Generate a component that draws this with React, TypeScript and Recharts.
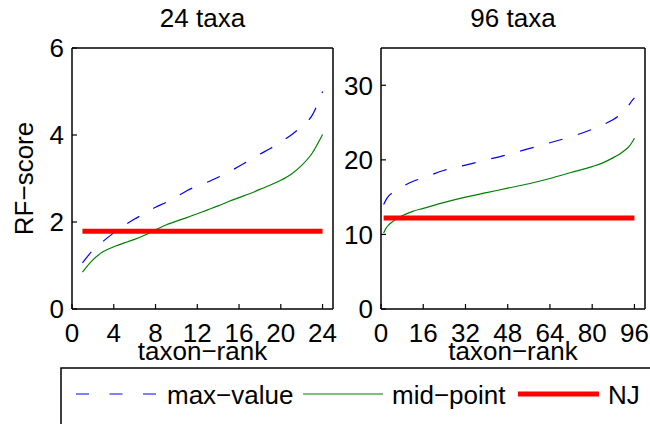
import { Line, LineChart, XAxis, YAxis } from 'recharts';

// 24 taxa panel
const ranks24 = [1, 2, 3, 4, 5, 6, 7, 8, 9, 10, 11, 12, 13, 14, 15, 16, 17, 18, 19, 20, 21, 22, 23, 24];
const max24 = [1.06, 1.35, 1.56, 1.75, 1.92, 2.07, 2.2, 2.34, 2.45, 2.58, 2.72, 2.83, 2.92, 3.03, 3.15, 3.28, 3.42, 3.56, 3.69, 3.84, 4.0, 4.2, 4.45, 5.0];
const mid24 = [0.85, 1.13, 1.32, 1.43, 1.52, 1.6, 1.7, 1.82, 1.93, 2.02, 2.1, 2.19, 2.28, 2.37, 2.47, 2.56, 2.65, 2.75, 2.85, 2.96, 3.1, 3.3, 3.58, 4.01];
const nj24 = 1.79;

// 96 taxa panel (read at selected ranks)
const ranks96 = [1, 2, 3, 4, 6, 8, 12, 16, 24, 32, 40, 48, 56, 64, 72, 80, 84, 88, 90, 92, 94, 95, 96];
const max96 = [14.0, 14.7, 15.2, 15.5, 16.0, 16.4, 17.1, 17.6, 18.6, 19.3, 20.0, 20.7, 21.5, 22.3, 23.1, 24.1, 24.7, 25.4, 25.9, 26.5, 27.4, 27.9, 28.3];
const mid96 = [10.2, 10.9, 11.3, 11.6, 12.1, 12.5, 13.1, 13.5, 14.3, 15.0, 15.6, 16.2, 16.8, 17.5, 18.3, 19.1, 19.6, 20.3, 20.7, 21.2, 21.8, 22.3, 22.9];
const nj96 = 12.2;

const xTicks24 = [0, 4, 8, 12, 16, 20, 24];
const yTicks24 = [0, 2, 4, 6];
const xTicks96 = [0, 16, 32, 48, 64, 80, 96];
const yTicks96 = [0, 10, 20, 30];

const rows24 = ranks24.map((rank, i) => ({ rank, max: max24[i], mid: mid24[i] }));
const rows96 = ranks96.map((rank, i) => ({ rank, max: max96[i], mid: mid96[i] }));
const njRows24 = [{ rank: ranks24[0], nj: nj24 }, { rank: ranks24[ranks24.length - 1], nj: nj24 }];
const njRows96 = [{ rank: ranks96[0], nj: nj96 }, { rank: ranks96[ranks96.length - 1], nj: nj96 }];

const FONT = '"Liberation Sans", Arial, Helvetica, sans-serif';
const tickStyle = { fill: '#000', fontSize: 26 };
const axisLine = { stroke: '#000', strokeWidth: 1.5 };
const tickLine = { stroke: '#000', strokeWidth: 1.2 };

function YLabel(props: any) {
  const vb = props.viewBox || { y: 48, height: 261 };
  const cy = vb.y + vb.height / 2;
  return (
    <text x={33} y={cy} transform={`rotate(-90, 33, ${cy})`} textAnchor="middle" fontSize={26} fill="#000">
      RF−score
    </text>
  );
}

type PanelProps = {
  title: string;
  rows: any[];
  njRows: any[];
  xDomain: number[];
  xTicks: number[];
  yDomain: number[];
  yTicks: number[];
  width: number;
  axisWidth: number;
  right: number;
  yLabel?: boolean;
};

function Panel({ title, rows, njRows, xDomain, xTicks, yDomain, yTicks, width, axisWidth, right, yLabel }: PanelProps) {
  return (
    <LineChart width={width} height={370} data={rows} margin={{ top: 47, right, bottom: 0, left: 0 }}>
      <XAxis
        xAxisId="b"
        dataKey="rank"
        type="number"
        domain={xDomain}
        ticks={xTicks}
        interval={0}
        height={61}
        tickSize={-5}
        tickMargin={20}
        tick={tickStyle}
        axisLine={axisLine}
        tickLine={tickLine}
        label={{ value: 'taxon−rank', position: 'insideBottom', offset: 10, fill: '#000', fontSize: 26 }}
      />
      <XAxis
        xAxisId="t"
        orientation="top"
        dataKey="rank"
        type="number"
        domain={xDomain}
        ticks={xTicks}
        interval={0}
        height={1}
        tickSize={-5}
        tick={false}
        axisLine={axisLine}
        tickLine={tickLine}
        label={{ value: title, position: 'top', offset: 20, fill: '#000', fontSize: 26 }}
      />
      <YAxis
        yAxisId="l"
        type="number"
        domain={yDomain}
        ticks={yTicks}
        interval={0}
        width={axisWidth}
        tickSize={-5}
        tickMargin={13}
        tick={tickStyle}
        axisLine={axisLine}
        tickLine={tickLine}
        label={yLabel ? { position: 'center', content: (p: any) => <YLabel {...p} /> } : undefined}
      />
      <YAxis
        yAxisId="r"
        orientation="right"
        type="number"
        domain={yDomain}
        ticks={yTicks}
        interval={0}
        width={1}
        tickSize={-5}
        tick={false}
        axisLine={axisLine}
        tickLine={tickLine}
      />
      <Line xAxisId="b" yAxisId="l" type="monotone" dataKey="max" stroke="#0000ff" strokeWidth={1.2} strokeDasharray="14 16" dot={false} activeDot={false} isAnimationActive={false} />
      <Line xAxisId="b" yAxisId="l" type="monotone" dataKey="mid" stroke="#008000" strokeWidth={1.2} dot={false} activeDot={false} isAnimationActive={false} />
      <Line xAxisId="t" yAxisId="r" data={njRows} dataKey="nj" stroke="#ff0000" strokeWidth={5} dot={false} activeDot={false} isAnimationActive={false} />
    </LineChart>
  );
}

function LegendBox() {
  const y = 394;
  return (
    <svg width={650} height={424} style={{ position: 'absolute', left: 0, top: 0 }}>
      <rect x={61} y={368} width={700} height={100} fill="#fff" stroke="#000" strokeWidth={1.5} />
      <line x1={76} y1={y} x2={156} y2={y} stroke="#0000ff" strokeWidth={1.2} strokeDasharray="13 20.5" />
      <text x={167} y={403.5} fontSize={26} fill="#000">max−value</text>
      <line x1={303} y1={y} x2={383} y2={y} stroke="#008000" strokeWidth={1.2} />
      <text x={392} y={403.5} fontSize={26} fill="#000">mid−point</text>
      <line x1={518} y1={y} x2={599} y2={y} stroke="#ff0000" strokeWidth={5} />
      <text x={608} y={403.5} fontSize={26} fill="#000">NJ</text>
    </svg>
  );
}

export default function App() {
  return (
    <div
      style={{
        position: 'absolute',
        left: 0,
        top: 0,
        width: 650,
        height: 424,
        overflow: 'hidden',
        background: '#fff',
        fontFamily: FONT,
      }}
    >
      <div style={{ position: 'absolute', left: 0, top: 0 }}>
        <Panel
          title="24 taxa"
          rows={rows24}
          njRows={njRows24}
          xDomain={[0, 25]}
          xTicks={xTicks24}
          yDomain={[0, 6]}
          yTicks={yTicks24}
          width={340}
          axisWidth={72}
          right={6}
          yLabel
        />
      </div>
      <div style={{ position: 'absolute', left: 320, top: 0 }}>
        <Panel
          title="96 taxa"
          rows={rows96}
          njRows={njRows96}
          xDomain={[0, 100]}
          xTicks={xTicks96}
          yDomain={[0, 35]}
          yTicks={yTicks96}
          width={330}
          axisWidth={61}
          right={4}
        />
      </div>
      <LegendBox />
    </div>
  );
}
